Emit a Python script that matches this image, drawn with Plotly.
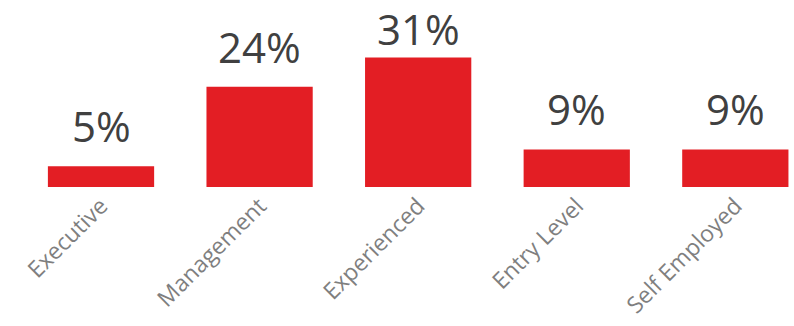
import plotly.graph_objects as go

categories = ["Executive", "Management", "Experienced", "Entry Level", "Self Employed"]
shares = [5, 24, 31, 9, 9]

BAR_RED = "#E31E24"
LABEL_DARK = "#404040"
TICK_GRAY = "#7F7F7F"

Y_TOP = 44.8          # upper end of the value axis
LABEL_HEADROOM = 16.6  # room kept for a value label under the top edge

fig = go.Figure(
    go.Bar(
        x=list(range(len(categories))),
        y=shares,
        width=0.67,
        marker=dict(color=BAR_RED, line=dict(width=0)),
        hoverinfo="skip",
    )
)

# value labels above each bar, pushed down when they would leave the plot
for i, v in enumerate(shares):
    fig.add_annotation(
        x=i, y=min(v, Y_TOP - LABEL_HEADROOM), text=f"{v}%", showarrow=False,
        xanchor="center", yanchor="bottom", yshift=10,
        font=dict(family="Open Sans", size=42, color=LABEL_DARK),
    )

fig.update_layout(
    width=794, height=326,
    margin=dict(l=0, r=0, t=0, b=139),
    paper_bgcolor="white", plot_bgcolor="white",
    showlegend=False,
    xaxis=dict(
        range=[-0.637, 4.37],
        tickmode="array",
        tickvals=list(range(len(categories))),
        ticktext=categories,
        tickangle=-45,
        tickfont=dict(family="Open Sans", size=23, color=TICK_GRAY),
        showgrid=False, zeroline=False, showline=False, ticks="",
    ),
    yaxis=dict(range=[0, Y_TOP], visible=False),
)

fig.write_html("out.html")
